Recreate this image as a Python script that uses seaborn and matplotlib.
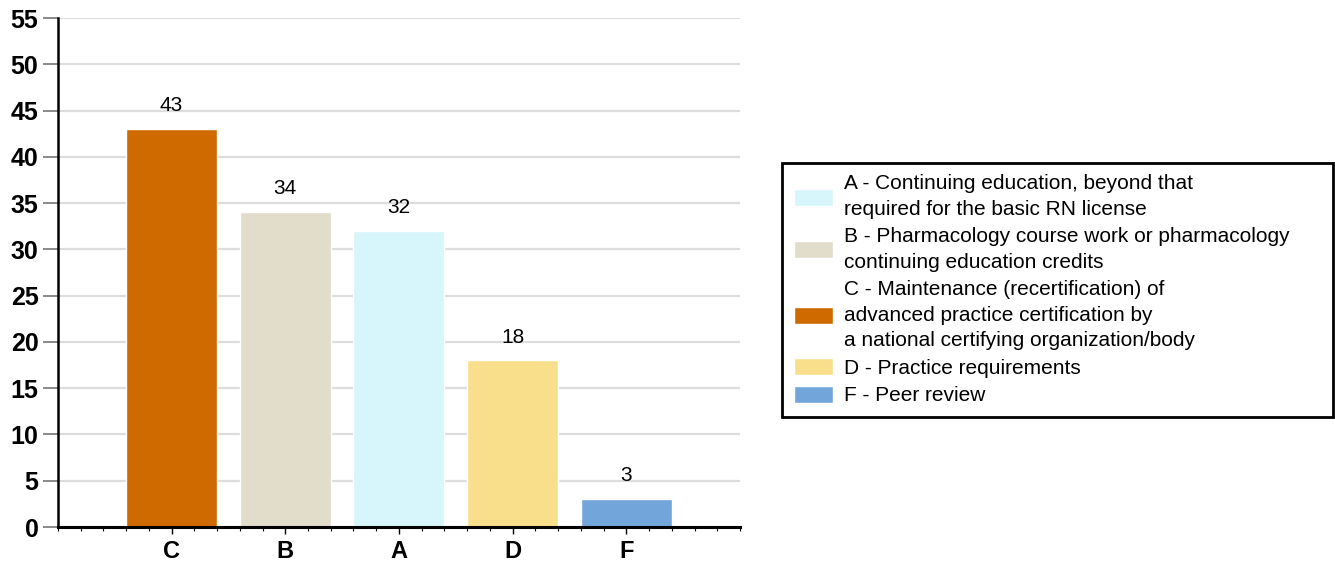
import pandas as pd
import seaborn as sns
import matplotlib.pyplot as plt
from matplotlib.ticker import MultipleLocator

# Data
codes = ['A', 'B', 'C', 'D', 'F']
counts = [32, 34, 43, 18, 3]
descriptions = [
    'A - Continuing education, beyond that\nrequired for the basic RN license',
    'B - Pharmacology course work or pharmacology\ncontinuing education credits',
    'C - Maintenance (recertification) of\nadvanced practice certification by\na national certifying organization/body',
    'D - Practice requirements',
    'F - Peer review',
]
bar_order = ['C', 'B', 'A', 'D', 'F']
colors = ['#D7F6FB', '#E2DCCB', '#CF6A00', '#F9DF8B', '#72A6DB']

df = pd.DataFrame({'code': codes, 'count': counts, 'desc': descriptions})
palette = dict(zip(descriptions, colors))

sns.set_style('white')
plt.rcParams['font.family'] = ['Liberation Sans', 'DejaVu Sans']
plt.rcParams['text.color'] = 'black'
plt.rcParams['xtick.labelcolor'] = 'black'
plt.rcParams['ytick.labelcolor'] = 'black'

fig = plt.figure(figsize=(13.35, 5.64), dpi=100)
ax = fig.add_axes([0.0434, 0.0656, 0.5109, 0.9024])

sns.barplot(data=df, x='code', y='count', hue='desc', order=bar_order,
            hue_order=descriptions, palette=palette, dodge=False, width=0.8,
            saturation=1, ax=ax, zorder=2)

for c in ax.containers:
    labels = [f'{v:.0f}' if v == v and v > 0 else '' for v in c.datavalues]
    ax.bar_label(c, labels=labels, padding=10, fontsize=15, color='black')

ax.set_xlim(-1, 5)
ax.set_ylim(0, 55)
ax.yaxis.set_major_locator(MultipleLocator(5))
ax.xaxis.set_minor_locator(MultipleLocator(0.2))
ax.set_xlabel('')
ax.set_ylabel('')

ax.grid(axis='y', color='#DDDDDD', linewidth=1.6, zorder=0)
ax.set_axisbelow(True)

for s in ['top', 'right']:
    ax.spines[s].set_visible(False)
ax.spines['left'].set_linewidth(1.8)
ax.spines['bottom'].set_linewidth(2.2)
ax.spines['left'].set_color('black')
ax.spines['bottom'].set_color('black')

ax.tick_params(axis='y', which='major', left=True, length=11, width=1.2,
               color='#777777', labelsize=18, pad=3)
ax.tick_params(axis='x', which='major', bottom=True, length=5, width=1,
               color='black', labelsize=17, pad=4)
ax.tick_params(axis='x', which='minor', bottom=True, length=3, width=0.8,
               color='black')
for lbl in ax.get_xticklabels() + ax.get_yticklabels():
    lbl.set_fontweight('bold')

handles, labels = ax.get_legend_handles_labels()
leg = ax.legend(handles, labels, loc='center left',
                bbox_to_anchor=(0.5858, 0.486, 0.4127, 0),
                bbox_transform=fig.transFigure, mode='expand', borderaxespad=0,
                frameon=True, fancybox=False, framealpha=1, edgecolor='black',
                fontsize=15, handlelength=1.9, handleheight=0.87,
                handletextpad=0.5, labelspacing=0.38, borderpad=0.55)
for t in leg.get_texts():
    t.set_linespacing(1.45)
leg.get_frame().set_linewidth(2)

plt.savefig('out.png', dpi=100)
